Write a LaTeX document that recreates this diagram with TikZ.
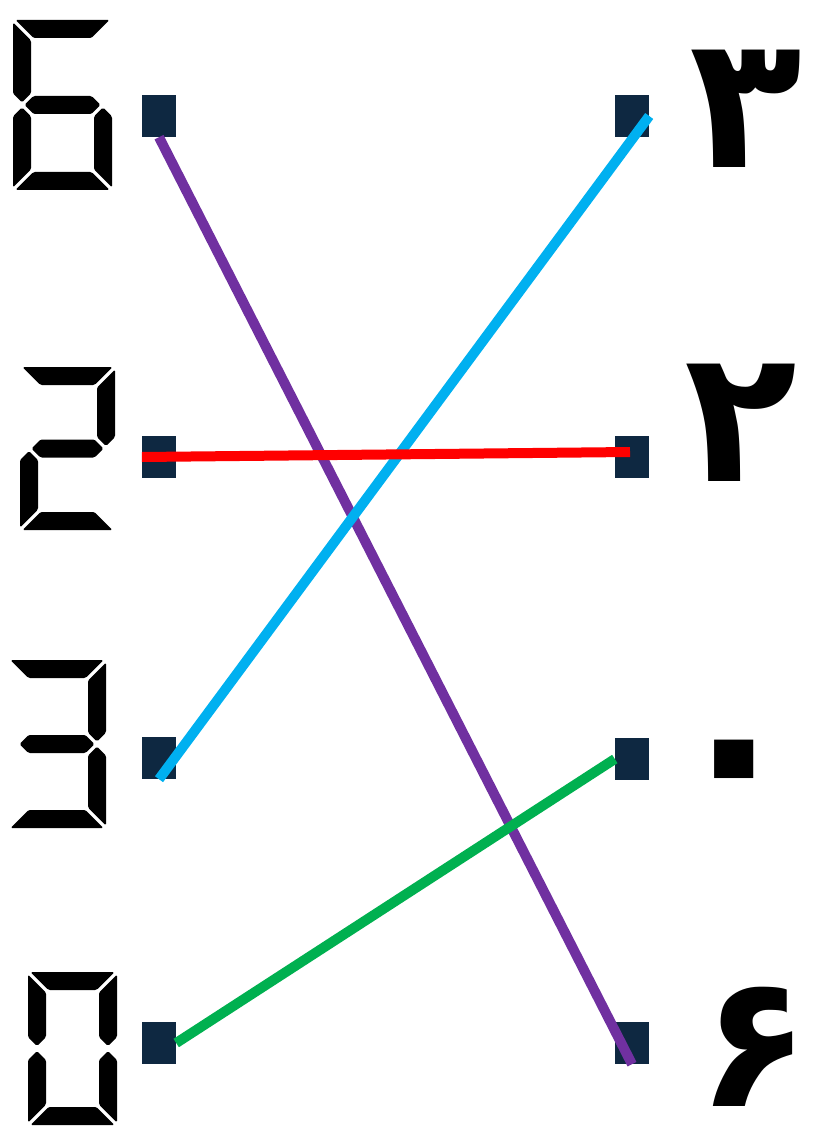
\documentclass[tikz,border=0pt]{standalone}
\usepackage{fontspec}
\newfontfamily\arabicfont[Script=Arabic]{DejaVu Sans}
\TeXXeTstate=1
\definecolor{navy}{HTML}{0E2841}
\definecolor{lpurple}{HTML}{7030A0}
\definecolor{lcyan}{HTML}{00B0F0}
\definecolor{lred}{HTML}{FF0000}
\definecolor{lgreen}{HTML}{00B050}
\def\segt{18}
\def\segg{2.5}
\newcommand\digitbox[4]{\pgfmathsetmacro\dxa{#1}\pgfmathsetmacro\dya{#2}\pgfmathsetmacro\dxb{#3}\pgfmathsetmacro\dyb{#4}\pgfmathsetmacro\dym{(#2+#4)/2}}
\newcommand\segA{\fill[seg] ({\dxa+\segg},{\dya}) -- ({\dxb-\segg},{\dya}) -- ({\dxb-\segt-\segg},{\dya+\segt}) -- ({\dxa+\segt+\segg},{\dya+\segt}) -- cycle;}
\newcommand\segD{\fill[seg] ({\dxa+\segg},{\dyb}) -- ({\dxb-\segg},{\dyb}) -- ({\dxb-\segt-\segg},{\dyb-\segt}) -- ({\dxa+\segt+\segg},{\dyb-\segt}) -- cycle;}
\newcommand\segG{\fill[seg] ({\dxa+\segt/2+\segg},{\dym}) -- ({\dxa+\segt+\segg},{\dym-\segt/2}) -- ({\dxb-\segt-\segg},{\dym-\segt/2}) -- ({\dxb-\segt/2-\segg},{\dym}) -- ({\dxb-\segt-\segg},{\dym+\segt/2}) -- ({\dxa+\segt+\segg},{\dym+\segt/2}) -- cycle;}
\newcommand\segF{\fill[seg] ({\dxa},{\dya+\segg}) -- ({\dxa+\segt},{\dya+\segt+\segg}) -- ({\dxa+\segt},{\dym-\segt/2-\segg}) -- ({\dxa+\segt/2},{\dym-\segg}) -- ({\dxa},{\dym-\segt/2-\segg}) -- cycle;}
\newcommand\segB{\fill[seg] ({\dxb},{\dya+\segg}) -- ({\dxb},{\dym-\segt/2-\segg}) -- ({\dxb-\segt/2},{\dym-\segg}) -- ({\dxb-\segt},{\dym-\segt/2-\segg}) -- ({\dxb-\segt},{\dya+\segt+\segg}) -- cycle;}
\newcommand\segC{\fill[seg] ({\dxb},{\dym+\segt/2+\segg}) -- ({\dxb},{\dyb-\segg}) -- ({\dxb-\segt},{\dyb-\segt-\segg}) -- ({\dxb-\segt},{\dym+\segt/2+\segg}) -- ({\dxb-\segt/2},{\dym+\segg}) -- cycle;}
\newcommand\segE{\fill[seg] ({\dxa},{\dym+\segt/2+\segg}) -- ({\dxa+\segt/2},{\dym+\segg}) -- ({\dxa+\segt},{\dym+\segt/2+\segg}) -- ({\dxa+\segt},{\dyb-\segt-\segg}) -- ({\dxa},{\dyb-\segg}) -- cycle;}
\begin{document}
\begin{tikzpicture}[x=1pt,y=-1pt,
  seg/.style={fill=black,rounded corners=1.5pt},
  pad/.style={fill=navy,minimum width=34pt,minimum height=42pt,inner sep=0pt,draw=none},
  link/.style={line width=10pt},
  pdigit/.style={font=\arabicfont\bfseries\fontsize{185}{185}\selectfont,inner sep=0pt,anchor=center}]
\useasboundingbox (0,0) rectangle (819,1139);
% seven-segment digits
\digitbox{13}{20}{112}{190}\segA\segF\segG\segE\segD\segC
\digitbox{20}{367}{115}{530}\segA\segB\segG\segE\segD
\digitbox{8}{660}{106}{828}\segA\segB\segG\segC\segD
\digitbox{28}{972}{117}{1125}\segA\segB\segC\segD\segE\segF
% pads
\node[pad] (L1) at (159,116) {};
\node[pad] (L2) at (159,457) {};
\node[pad] (L3) at (159,758) {};
\node[pad] (L4) at (159,1043) {};
\node[pad] (R1) at (632,116) {};
\node[pad] (R2) at (632,457) {};
\node[pad] (R3) at (632,759) {};
\node[pad] (R4) at (632,1043) {};
% persian digits
\node[pdigit] (N3) at (746,109) {\beginR ۳\endR};
\node[pdigit] (N2) at (741,423) {\beginR ۲\endR};
\node[pdigit,font=\arabicfont\bfseries\fontsize{225}{225}\selectfont] (N0) at (734,781) {\beginR ۰\endR};
\node[pdigit] (N6) at (754,1047) {\beginR ۶\endR};
% links
\draw[link,lpurple] (L1.south) -- (R4.south);
\draw[link,lcyan] (L3.south) -- (R1.east);
\draw[link,lred] (L2.west) -- ([xshift=-2pt,yshift=5pt]R2.center);
\draw[link,lgreen] (L4.east) -- (R3.west);
\end{tikzpicture}
\end{document}
